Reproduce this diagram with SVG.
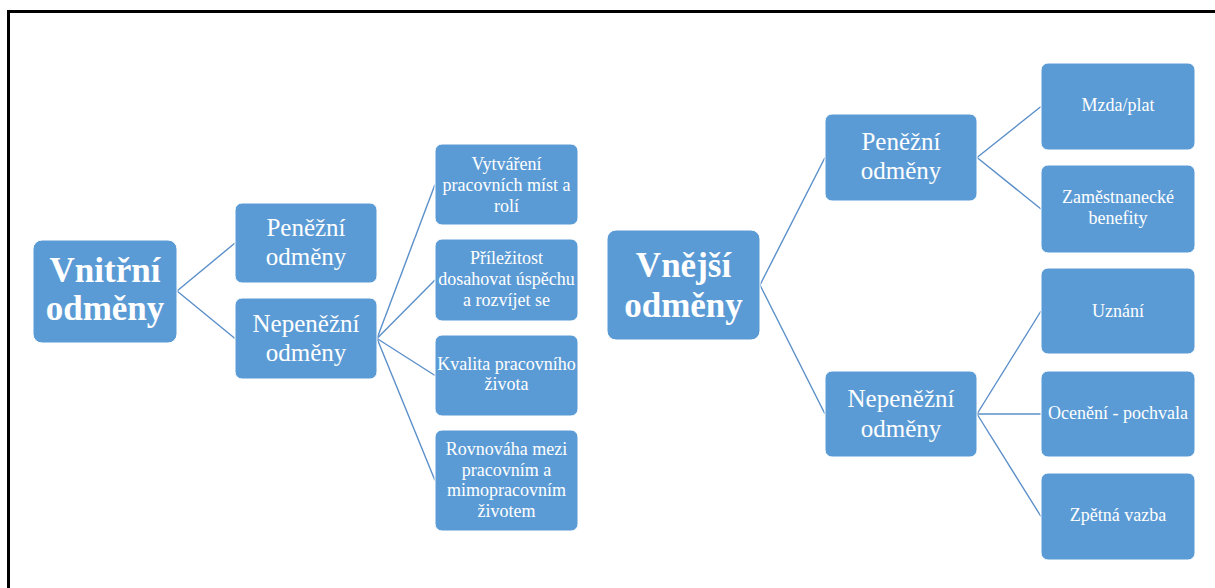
<svg xmlns="http://www.w3.org/2000/svg" width="1215" height="588" viewBox="0 0 1215 588">
<style>
.box{fill:#5B9BD5;stroke:#ffffff;stroke-width:1}
.t{fill:#ffffff;font-family:"Liberation Serif","Times New Roman",serif;text-anchor:middle}
.big{font-size:35px;font-weight:bold}
.mid{font-size:25px}
.sm{font-size:18px}
.conn{fill:none;stroke:#5B8FC9;stroke-width:1.4}
</style>
<rect x="0" y="0" width="1215" height="588" fill="#ffffff"/>
<path d="M8.5,588 V11.5 H1215" fill="none" stroke="#000000" stroke-width="3"/>
<g id="connectors" class="conn">
<path d="M177,291 L235,243"/>
<path d="M177,291 L235,338.5"/>
<path d="M377,338.5 L435,184.5"/>
<path d="M377,338.5 L435,280"/>
<path d="M377,338.5 L435,375.5"/>
<path d="M377,338.5 L435,480.5"/>
<path d="M760,285 L825,157.5"/>
<path d="M760,285 L825,414"/>
<path d="M977,157.5 L1041,106.5"/>
<path d="M977,157.5 L1041,209"/>
<path d="M977,414 L1041,311"/>
<path d="M977,414 L1041,414"/>
<path d="M977,414 L1041,516.5"/>
</g>
<g id="vnitrni">
<rect class="box" x="33" y="240" width="144" height="103" rx="9"/>
<text class="t big" x="105" y="282">Vnitřní</text>
<text class="t big" x="105" y="320">odměny</text>
</g>
<g id="penezni-l">
<rect class="box" x="235" y="203" width="142" height="80" rx="7"/>
<text class="t mid" x="306" y="236">Peněžní</text>
<text class="t mid" x="306" y="265">odměny</text>
</g>
<g id="nepenezni-l">
<rect class="box" x="235" y="298" width="142" height="81" rx="7"/>
<text class="t mid" x="306" y="332">Nepeněžní</text>
<text class="t mid" x="306" y="361">odměny</text>
</g>
<g id="vytvareni">
<rect class="box" x="435" y="144" width="143" height="81" rx="7"/>
<text class="t sm" x="506.5" y="170">Vytváření</text>
<text class="t sm" x="506.5" y="191">pracovních míst a</text>
<text class="t sm" x="506.5" y="212">rolí</text>
</g>
<g id="prilezitost">
<rect class="box" x="435" y="239" width="143" height="82" rx="7"/>
<text class="t sm" x="506.5" y="264">Příležitost</text>
<text class="t sm" x="506.5" y="285">dosahovat úspěchu</text>
<text class="t sm" x="506.5" y="306">a rozvíjet se</text>
</g>
<g id="kvalita">
<rect class="box" x="435" y="335" width="143" height="81" rx="7"/>
<text class="t sm" x="506.5" y="370">Kvalita pracovního</text>
<text class="t sm" x="506.5" y="390">života</text>
</g>
<g id="rovnovaha">
<rect class="box" x="435" y="430" width="143" height="101" rx="7"/>
<text class="t sm" x="506.5" y="455">Rovnováha mezi</text>
<text class="t sm" x="506.5" y="476">pracovním a</text>
<text class="t sm" x="506.5" y="496">mimopracovním</text>
<text class="t sm" x="506.5" y="517">životem</text>
</g>
<g id="vnejsi">
<rect class="box" x="607" y="230" width="153" height="110" rx="9"/>
<text class="t big" x="683.5" y="277">Vnější</text>
<text class="t big" x="683.5" y="317">odměny</text>
</g>
<g id="penezni-r">
<rect class="box" x="825" y="114" width="152" height="87" rx="7"/>
<text class="t mid" x="901" y="150">Peněžní</text>
<text class="t mid" x="901" y="179">odměny</text>
</g>
<g id="nepenezni-r">
<rect class="box" x="825" y="371" width="152" height="86" rx="7"/>
<text class="t mid" x="901" y="407">Nepeněžní</text>
<text class="t mid" x="901" y="437">odměny</text>
</g>
<g id="mzda">
<rect class="box" x="1041" y="63" width="154" height="87" rx="7"/>
<text class="t sm" x="1118" y="111">Mzda/plat</text>
</g>
<g id="benefity">
<rect class="box" x="1041" y="165" width="154" height="88" rx="7"/>
<text class="t sm" x="1118" y="203">Zaměstnanecké</text>
<text class="t sm" x="1118" y="224">benefity</text>
</g>
<g id="uznani">
<rect class="box" x="1041" y="268" width="154" height="86" rx="7"/>
<text class="t sm" x="1118" y="317">Uznání</text>
</g>
<g id="oceneni">
<rect class="box" x="1041" y="371" width="154" height="86" rx="7"/>
<text class="t sm" x="1118" y="419">Ocenění - pochvala</text>
</g>
<g id="zpetna">
<rect class="box" x="1041" y="473" width="154" height="87" rx="7"/>
<text class="t sm" x="1118" y="521">Zpětná vazba</text>
</g>
</svg>
